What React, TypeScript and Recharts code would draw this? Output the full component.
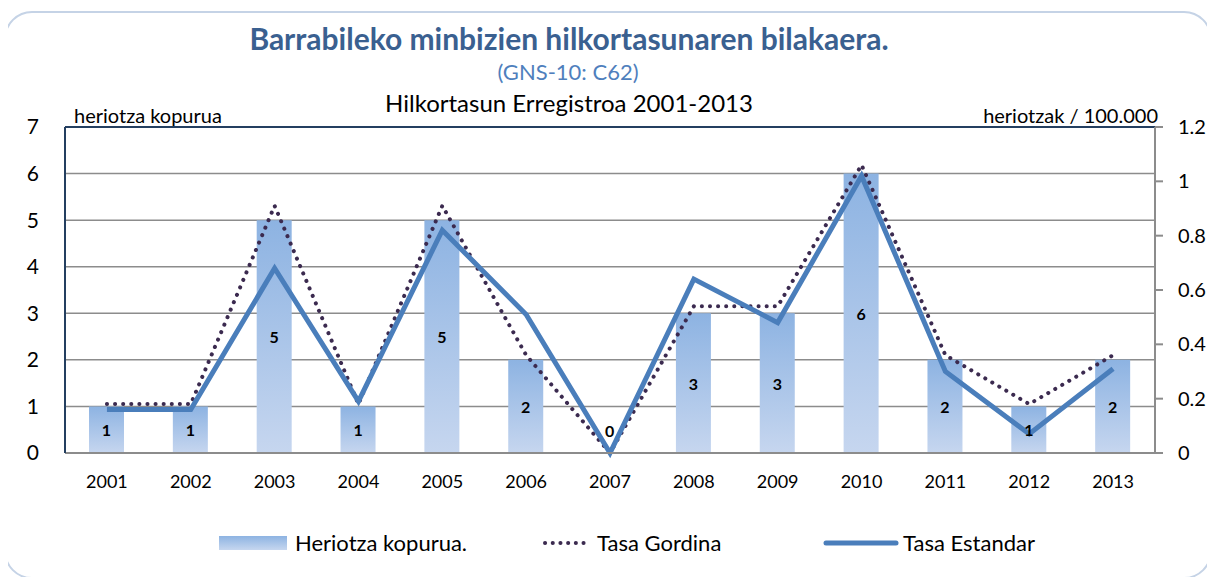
import {
  ComposedChart,
  Bar,
  Line,
  XAxis,
  YAxis,
  CartesianGrid,
  LabelList,
  ReferenceLine,
} from "recharts";

const years = [
  "2001", "2002", "2003", "2004", "2005", "2006", "2007",
  "2008", "2009", "2010", "2011", "2012", "2013",
];
const deaths = [1, 1, 5, 1, 5, 2, 0, 3, 3, 6, 2, 1, 2];
const crudeRate = [0.18, 0.18, 0.91, 0.18, 0.91, 0.36, 0, 0.54, 0.54, 1.06, 0.36, 0.18, 0.36];
const stdRate = [0.16, 0.16, 0.68, 0.19, 0.82, 0.51, 0, 0.64, 0.48, 1.02, 0.3, 0.07, 0.31];
const leftTicks = [0, 1, 2, 3, 4, 5, 6, 7];
const rightTicks = [0, 0.2, 0.4, 0.6, 0.8, 1, 1.2];

const data = years.map((year, i) => ({
  year,
  deaths: deaths[i],
  crude: crudeRate[i],
  std: stdRate[i],
}));

const FONT = "Lato, 'Open Sans', sans-serif";
const NAVY = "#243f60";
const GRID = "#8c8c8c";

const BarLabel = (props: any) => {
  const { x, y, width, height, value } = props;
  // a zero bar has no body, so its label sits just above the axis
  const cy = height > 2 ? y + height / 2 : y + height - 23;
  return (
    <text
      x={x + width / 2}
      y={cy}
      textAnchor="middle"
      dominantBaseline="central"
      fontFamily={FONT}
      fontWeight="bold"
      fontSize={16}
      fill="#000"
    >
      {value}
    </text>
  );
};

export default function App() {
  return (
    <div
      style={{
        position: "relative",
        width: 1215,
        height: 585,
        margin: -8,
        background: "#fff",
        fontFamily: FONT,
        overflow: "hidden",
      }}
    >
      <div
        style={{
          position: "absolute",
          left: 4,
          top: 11,
          width: 1208,
          height: 568,
          border: "2px solid #c5d3e6",
          borderRadius: 28,
          boxSizing: "border-box",
        }}
      />

      <div style={{ position: "absolute", left: 0, width: 1138, top: 20, lineHeight: "36px", textAlign: "center", fontSize: 30, fontWeight: "bold", color: "#3a6090" }}>
        Barrabileko minbizien hilkortasunaren bilakaera.
      </div>
      <div style={{ position: "absolute", left: 0, width: 1136, top: 58, lineHeight: "28px", textAlign: "center", fontSize: 22, color: "#4f7fbd" }}>
        (GNS-10: C62)
      </div>
      <div style={{ position: "absolute", left: 0, width: 1138, top: 88, lineHeight: "30px", textAlign: "center", fontSize: 24, color: "#000" }}>
        Hilkortasun Erregistroa 2001-2013
      </div>
      <div style={{ position: "absolute", left: 74, top: 103, lineHeight: "24px", fontSize: 20, color: "#000" }}>
        heriotza kopurua
      </div>
      <div style={{ position: "absolute", right: 1215 - 1158, top: 103, lineHeight: "24px", fontSize: 20, color: "#000" }}>
        heriotzak / 100.000
      </div>

      <div style={{ position: "absolute", left: 0, top: 0 }}>
        <ComposedChart
          width={1215}
          height={585}
          data={data}
          margin={{ top: 127, left: 25, right: 5, bottom: 92 }}
        >
          <defs>
            <linearGradient id="barGrad" x1="0" y1="0" x2="0" y2="1">
              <stop offset="0%" stopColor="#8db3e2" />
              <stop offset="100%" stopColor="#c6d6ef" />
            </linearGradient>
          </defs>
          <CartesianGrid vertical={false} stroke={GRID} strokeWidth={1.5} yAxisId="left" />
          <XAxis
            dataKey="year"
            height={40}
            axisLine={{ stroke: GRID, strokeWidth: 2 }}
            tickLine={false}
            tickSize={6}
            tickMargin={16}
            tick={{ fontSize: 18, fill: "#000", fontFamily: FONT }}
          />
          <YAxis
            yAxisId="left"
            width={40}
            domain={[0, 7]}
            ticks={leftTicks}
            interval={0}
            axisLine={{ stroke: NAVY, strokeWidth: 2 }}
            tickLine={false}
            tickSize={6}
            tickMargin={20}
            tick={{ fontSize: 21, fill: "#000", fontFamily: FONT }}
          />
          <YAxis
            yAxisId="right"
            orientation="right"
            width={55}
            domain={[0, 1.2]}
            ticks={rightTicks}
            interval={0}
            axisLine={{ stroke: GRID, strokeWidth: 2 }}
            tickLine={{ stroke: GRID, strokeWidth: 2 }}
            tickSize={8}
            tickMargin={15}
            tick={{ fontSize: 20, fill: "#000", fontFamily: FONT, textAnchor: "start" }}
          />
          <ReferenceLine yAxisId="left" y={7} stroke={NAVY} strokeWidth={2} />
          <Bar
            yAxisId="left"
            dataKey="deaths"
            barSize={35}
            minPointSize={0.5}
            fill="url(#barGrad)"
            isAnimationActive={false}
          >
            <LabelList dataKey="deaths" content={BarLabel} />
          </Bar>
          <Line
            yAxisId="right"
            dataKey="crude"
            type="linear"
            stroke="#3b2a4f"
            strokeWidth={4}
            strokeLinecap="round"
            strokeDasharray="0.1 8"
            dot={false}
            activeDot={false}
            isAnimationActive={false}
          />
          <Line
            yAxisId="right"
            dataKey="std"
            type="linear"
            stroke="#4a7ebb"
            strokeWidth={5}
            dot={false}
            activeDot={false}
            isAnimationActive={false}
          />
        </ComposedChart>
      </div>

      <div style={{ position: "absolute", left: 0, top: 529, width: 1215, height: 28, fontSize: 22, lineHeight: "28px", color: "#000" }}>
        <div style={{ position: "absolute", left: 219, top: 7, width: 68, height: 14, background: "linear-gradient(#8db3e2, #c6d6ef)" }} />
        <div style={{ position: "absolute", left: 295, top: 0 }}>Heriotza kopurua.</div>
        <svg style={{ position: "absolute", left: 541, top: 8 }} width={54} height={12}>
          <line x1={4} y1={6} x2={50} y2={6} stroke="#3b2a4f" strokeWidth={4} strokeLinecap="round" strokeDasharray="0.1 7.6" />
        </svg>
        <div style={{ position: "absolute", left: 597, top: 0 }}>Tasa Gordina</div>
        <svg style={{ position: "absolute", left: 822, top: 8 }} width={78} height={12}>
          <line x1={4} y1={6} x2={74} y2={6} stroke="#4a7ebb" strokeWidth={5} strokeLinecap="round" />
        </svg>
        <div style={{ position: "absolute", left: 903, top: 0 }}>Tasa Estandar</div>
      </div>
    </div>
  );
}
